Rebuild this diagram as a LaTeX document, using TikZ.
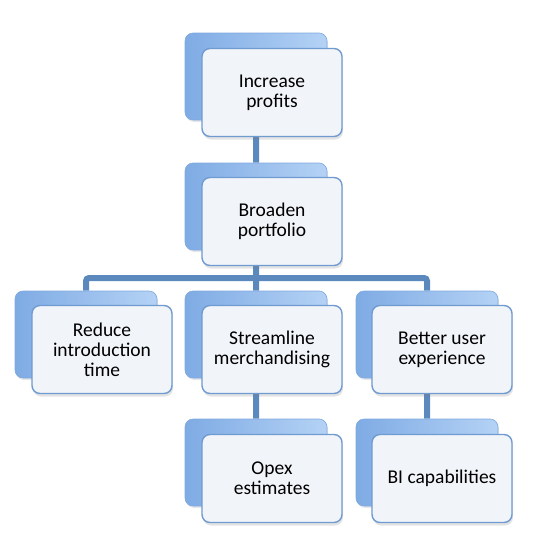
\documentclass[tikz,border=0pt]{standalone}
\usepackage{fontspec}
\setmainfont{Carlito}
\usetikzlibrary{shadows,backgrounds}
\definecolor{backleft}{HTML}{7FABE4}
\definecolor{backmid}{HTML}{A6C8F1}
\definecolor{backright}{HTML}{B4D2F5}
\definecolor{backedge}{HTML}{7FA9DE}
\definecolor{frontedge}{HTML}{6F9BD0}
\definecolor{frontfill}{HTML}{F1F4F9}
\definecolor{linkblue}{HTML}{5B88BD}

\begin{document}
\begin{tikzpicture}[x=1pt, y=-1pt,
        backbox/.style={draw=backedge, line width=0.6pt, rounded corners=8pt,
            left color=backleft, middle color=backmid, right color=backright,
            minimum width=142pt, minimum height=87pt,
            drop shadow={shadow xshift=1pt, shadow yshift=-2pt, opacity=0.18}},
        frontbox/.style={draw=frontedge, line width=1.4pt, rounded corners=8pt,
            fill=frontfill, minimum width=140pt, minimum height=88pt,
            align=center, font=\fontsize{19.5}{20}\selectfont,
            drop shadow={shadow xshift=1pt, shadow yshift=-3pt, opacity=0.22}},
        link/.style={draw=linkblue, line width=6pt, rounded corners=3pt}]
        \useasboundingbox (0, 0) rectangle (546, 552);

        % back boxes
        \node[backbox] at (256, 76.5)(profitsback){};
        \node[backbox] at (256, 206.5)(portfolioback){};
        \node[backbox] at (86, 334.5)(reduceback){};
        \node[backbox] at (256, 334.5)(streamback){};
        \node[backbox] at (427, 334.5)(betterback){};
        \node[backbox] at (256, 462.5)(opexback){};
        \node[backbox] at (427, 462.5)(biback){};

        % front boxes
        \node[frontbox] at (272, 92.5)(profits){Increase\\profits};
        \node[frontbox] at (272, 221.5)(portfolio){Broaden\\portfolio};
        \node[frontbox] at (102, 349.5)(reduce){Reduce\\introduction\\time};
        \node[frontbox] at (272, 349.5)(stream){Streamline\\merchandising};
        \node[frontbox] at (442, 349.5)(better){Better user\\experience};
        \node[frontbox] at (272, 478.5)(opex){Opex\\estimates};
        \node[frontbox] at (442, 478.5)(bi){BI capabilities};

        \coordinate (bar) at (256, 278);

        \begin{scope}[on background layer]
            \path[link]
                (profitsback) -- (portfolioback)
                (portfolioback) -- (bar) -- (streamback)
                (bar) -| (reduceback)
                (bar) -| (betterback)
                (streamback) -- (opexback)
                (betterback) -- (biback)
                ;
        \end{scope}
    \end{tikzpicture}
\end{document}
